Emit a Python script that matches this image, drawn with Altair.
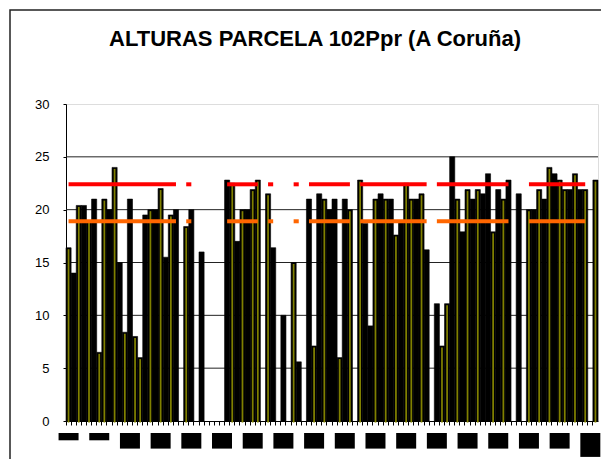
import math
import altair as alt
import pandas as pd

TITLE = "ALTURAS PARCELA 102Ppr (A Coruña)"

# Height of each tree (one category per tree); None = no bar
heights = [16.4, 14, 20.4, 20.4, 18.9, 21, 6.5, 21, 20, 24,
           15, 8.4, 21, 8, 6, 19.5, 20, 20, 22, 15.5,
           19.5, 20, None, 18.4, 20, None, 16, None, None, None,
           None, 22.8, 22.5, 17, 20, 20, 21.9, 22.8, None, 21.5,
           16.4, None, 10, None, 15, 5.6, None, 21, 7.1, 21.5,
           21, 20, 21, 6, 21, 20, None, 22.8, 18.7, 9,
           21, 21.5, 21, 21, 17.6, 18.8, 22.5, 21, 21, 21.5,
           16.2, None, 11.1, 7.1, 11.1, 25, 21, 17.9, 21.9, 21,
           21.9, 21.5, 23.4, 17.9, 21.9, 21, 22.8, None, 21.5, None,
           20, 20, 21.9, 21, 24, 23.4, 22.8, 21.9, 21.9, 23.4,
           21.9, 21.9, None, 22.8]

red_level = 22.4
orange_level = 18.9
y_ticks = [0, 5, 10, 15, 20, 25, 30]
grid_values = [5, 10, 15, 20, 25]
label_step = 6

N = len(heights)
cats = list(range(N))

rows = []
seg = 0
prev = False
for k, h in enumerate(heights):
    if h is None:
        prev = False
        continue
    if not prev:
        seg += 1
    prev = True
    olive = (k + math.floor((k + 1) / 7.5)) % 2 == 0
    rows.append({"idx": k, "h": h, "seg": seg, "olive": olive})
bars = pd.DataFrame(rows)
red_df = bars.assign(v=red_level)
orange_df = bars.assign(v=orange_level)
grid_df = pd.DataFrame({"g": grid_values})

W, H = 532, 317
unit = H / 30.0

# category labels (rendered as solid dark blocks in the reference)
label_cats = list(range(0, N, label_step))
label_text = [str(k + 1) for k in label_cats]
lab_df = pd.DataFrame({"idx": label_cats, "text": label_text})
lab_df["ytop"] = -12 / unit
lab_df["ybot"] = -(12 + lab_df["text"].str.len() * 8.3 - 1) / unit

xs = alt.Scale(domain=cats, paddingInner=0, paddingOuter=0)
x_axis = alt.Axis(labels=False, title=None, bandPosition=0, tickSize=4,
                  tickColor="black", domainColor="black", grid=False)
x_enc = alt.X("idx:O", scale=xs, axis=x_axis, title=None)
ys = alt.Scale(domain=[0, 30], nice=False, zero=True)
y_axis = alt.Axis(values=y_ticks, title=None, grid=False, tickSize=3,
                  tickColor="black", domainColor="black",
                  labelFont="Liberation Sans", labelFontSize=13,
                  labelColor="black", labelPadding=14)

grid = alt.Chart(grid_df).mark_rule(color="#222222", strokeWidth=1).encode(
    y=alt.Y("g:Q", scale=ys, axis=y_axis, title=None)
)

black_bars = alt.Chart(bars).mark_bar(color="black", stroke="black", strokeWidth=0.6).encode(
    x=x_enc,
    y=alt.Y("h:Q", scale=ys, title=None),
)

olive_bars = alt.Chart(bars).transform_filter("datum.olive").mark_bar(
    color="#808000", width=alt.RelativeBandSize(0.34), yOffset=1.5
).encode(x=alt.X("idx:O", scale=xs, title=None), y=alt.Y("h:Q", scale=ys, title=None))

red_line = alt.Chart(red_df).mark_line(color="#FF0000", strokeWidth=4, strokeCap="butt").encode(
    x=alt.X("idx:O", scale=xs, title=None), y=alt.Y("v:Q", scale=ys, title=None), detail="seg:N"
)
orange_line = alt.Chart(orange_df).mark_line(color="#FF6600", strokeWidth=4, strokeCap="butt").encode(
    x=alt.X("idx:O", scale=xs, title=None), y=alt.Y("v:Q", scale=ys, title=None), detail="seg:N"
)

blocks = alt.Chart(lab_df).mark_bar(color="black", width=20, clip=False).encode(
    x=alt.X("idx:O", scale=xs, title=None),
    y=alt.Y("ytop:Q", scale=ys, title=None),
    y2="ybot:Q",
)

frame = alt.Chart(pd.DataFrame({"a": [0]})).mark_rect(
    fillOpacity=0, stroke="#222222", strokeWidth=1.5
).encode(
    x=alt.value(-56), x2=alt.value(W + 30), y=alt.value(-94), y2=alt.value(H + 70)
)

chart = alt.layer(grid, black_bars, olive_bars, red_line, orange_line, blocks, frame).properties(
    width=W, height=H,
    title=alt.TitleParams(TITLE, font="Liberation Sans", fontSize=22, fontWeight="bold",
                          color="black", anchor="middle", dx=-17, offset=0, dy=42),
    autosize=alt.AutoSizeParams(type="none"),
    padding={"left": 58, "top": 96, "right": 3, "bottom": 38},
).configure_view(stroke="#808080", strokeWidth=2).configure(background="white")

chart.save("out.html", embed_options={"renderer": "svg", "actions": False})
